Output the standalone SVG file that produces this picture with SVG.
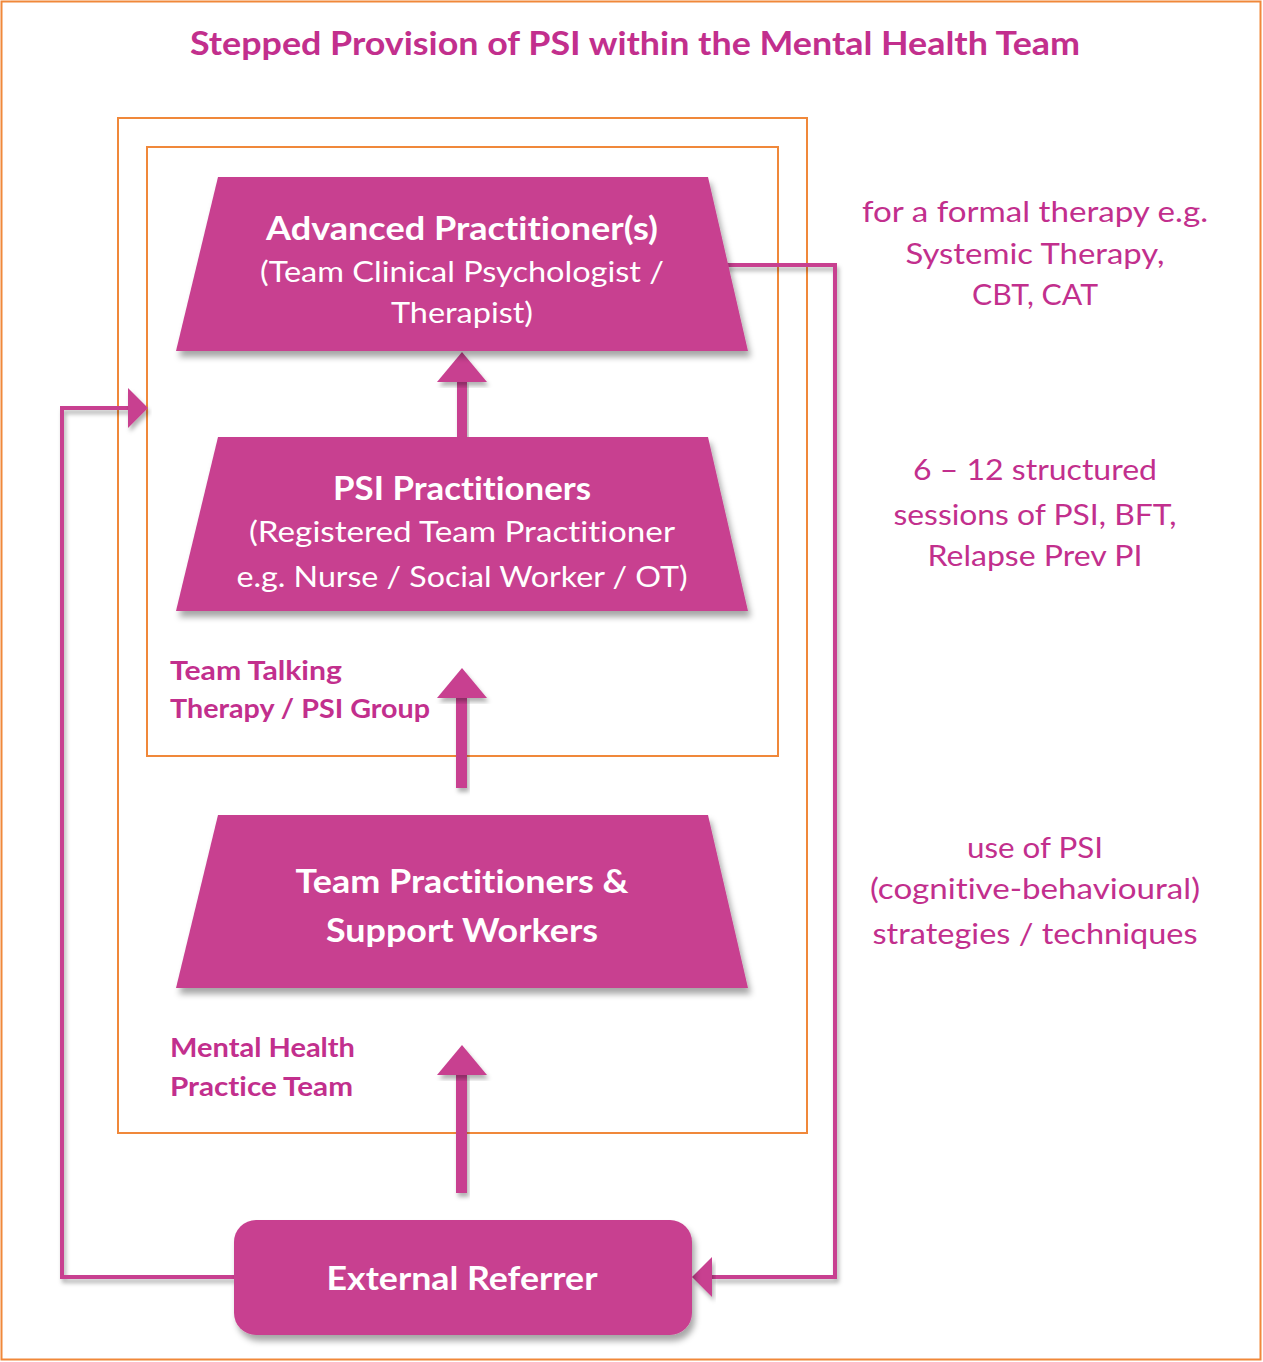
<svg xmlns="http://www.w3.org/2000/svg" width="1263" height="1362" viewBox="0 0 1263 1362">
<style>
text{font-variant-ligatures:none}
.frame{fill:none;stroke:#F0883A;stroke-width:2}
.node{fill:#C84190;filter:url(#sh)}
.wt{fill:#FFFFFF;font-family:Lato,"Open Sans","Liberation Sans",sans-serif;text-anchor:middle}
.b{font-weight:bold}
.lbl{fill:#C22F8D;font-family:Lato,"Open Sans","Liberation Sans",sans-serif}
.conn{fill:none;stroke:#C84190;stroke-width:4;filter:url(#sh2)}
.arr{fill:#C84190;filter:url(#sh2)}
</style>
<defs>
<filter id="sh" x="-10%" y="-10%" width="125%" height="130%">
<feDropShadow dx="3" dy="6" stdDeviation="3" flood-color="#000" flood-opacity="0.35"/>
</filter>
<filter id="sh2" x="-20%" y="-20%" width="140%" height="140%">
<feDropShadow dx="2" dy="4" stdDeviation="2" flood-color="#000" flood-opacity="0.3"/>
</filter>
</defs>
<rect x="0" y="0" width="1263" height="1362" fill="#FFFFFF"/>
<rect class="frame" x="1.5" y="1.5" width="1259" height="1358"/>
<text x="635" y="55" class="lbl b" font-size="32" text-anchor="middle" textLength="890" lengthAdjust="spacingAndGlyphs">Stepped Provision of PSI within the Mental Health Team</text>

<g id="team-box"><rect class="frame" x="118" y="118" width="689" height="1015"/></g>
<g id="group-box"><rect class="frame" x="147" y="147" width="631" height="609"/></g>

<g id="connectors">
<path class="conn" d="M725 265 H835 V1277 H712"/>
<path class="conn" d="M725 523 H835"/>
<path class="conn" d="M725 903 H835"/>
<polygon class="arr" points="692,1277 712,1257 712,1297"/>
<path class="conn" d="M234 1277 H62 V408 H128"/>
<polygon class="arr" points="148,408 128,388 128,428"/>
<rect class="arr" x="457" y="380" width="10" height="57"/>
<polygon class="arr" points="462,352 487,382 437,382"/>
<rect class="arr" x="456" y="696" width="11" height="92"/>
<polygon class="arr" points="462,668 487,698 437,698"/>
<rect class="arr" x="456" y="1073" width="11" height="120"/>
<polygon class="arr" points="462,1045 487,1075 437,1075"/>
</g>

<g id="advanced">
<polygon class="node" points="218,177 708,177 748,351 176,351"/>
<text class="wt b" x="462" y="240" font-size="33" textLength="392" lengthAdjust="spacingAndGlyphs">Advanced Practitioner(s)</text>
<text class="wt" x="462" y="282" font-size="29" textLength="404" lengthAdjust="spacingAndGlyphs">(Team Clinical Psychologist /</text>
<text class="wt" x="462" y="323" font-size="29" textLength="142" lengthAdjust="spacingAndGlyphs">Therapist)</text>
</g>

<g id="psi">
<polygon class="node" points="218,437 708,437 748,611 176,611"/>
<text class="wt b" x="462" y="500" font-size="33" textLength="258" lengthAdjust="spacingAndGlyphs">PSI Practitioners</text>
<text class="wt" x="462" y="542" font-size="29" textLength="426" lengthAdjust="spacingAndGlyphs">(Registered Team Practitioner</text>
<text class="wt" x="462" y="587" font-size="29" textLength="451" lengthAdjust="spacingAndGlyphs">e.g. Nurse / Social Worker / OT)</text>
</g>

<g id="team-practitioners">
<polygon class="node" points="218,815 708,815 748,988 176,988"/>
<text class="wt b" x="462" y="893" font-size="33" textLength="333" lengthAdjust="spacingAndGlyphs">Team Practitioners &amp;</text>
<text class="wt b" x="462" y="942" font-size="33" textLength="272" lengthAdjust="spacingAndGlyphs">Support Workers</text>
</g>

<g id="referrer">
<rect class="node" x="234" y="1220" width="458" height="115" rx="22"/>
<text class="wt b" x="462" y="1290" font-size="33" textLength="271" lengthAdjust="spacingAndGlyphs">External Referrer</text>
</g>

<g id="labels-left">
<text class="lbl b" x="170" y="680" font-size="26" textLength="172" lengthAdjust="spacingAndGlyphs">Team Talking</text>
<text class="lbl b" x="170" y="718" font-size="26" textLength="260" lengthAdjust="spacingAndGlyphs">Therapy / PSI Group</text>
<text class="lbl b" x="170" y="1057" font-size="26" textLength="185" lengthAdjust="spacingAndGlyphs">Mental Health</text>
<text class="lbl b" x="170" y="1096" font-size="26" textLength="183" lengthAdjust="spacingAndGlyphs">Practice Team</text>
</g>

<g id="labels-right" text-anchor="middle">
<text class="lbl" x="1035" y="222" font-size="28" textLength="346" lengthAdjust="spacingAndGlyphs">for a formal therapy e.g.</text>
<text class="lbl" x="1035" y="264" font-size="28" textLength="259" lengthAdjust="spacingAndGlyphs">Systemic Therapy,</text>
<text class="lbl" x="1035" y="305" font-size="28" textLength="126" lengthAdjust="spacingAndGlyphs">CBT, CAT</text>
<text class="lbl" x="1035" y="480" font-size="28" textLength="244" lengthAdjust="spacingAndGlyphs">6 – 12 structured</text>
<text class="lbl" x="1035" y="525" font-size="28" textLength="283" lengthAdjust="spacingAndGlyphs">sessions of PSI, BFT,</text>
<text class="lbl" x="1035" y="566" font-size="28" textLength="215" lengthAdjust="spacingAndGlyphs">Relapse Prev PI</text>
<text class="lbl" x="1035" y="858" font-size="28" textLength="136" lengthAdjust="spacingAndGlyphs">use of PSI</text>
<text class="lbl" x="1035" y="899" font-size="28" textLength="330" lengthAdjust="spacingAndGlyphs">(cognitive-behavioural)</text>
<text class="lbl" x="1035" y="944" font-size="28" textLength="325" lengthAdjust="spacingAndGlyphs">strategies / techniques</text>
</g>
</svg>
